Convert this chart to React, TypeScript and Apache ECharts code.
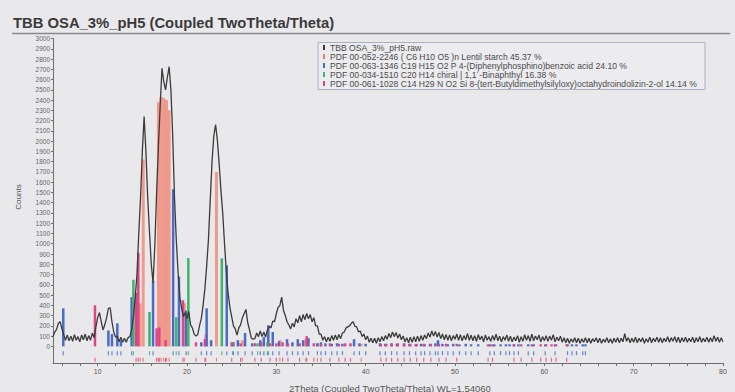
import React, { useEffect, useRef } from "react";
import * as echarts from "echarts";

const titleText = "TBB OSA_3%_pH5 (Coupled TwoTheta/Theta)";
const xAxisTitle = "2Theta (Coupled TwoTheta/Theta) WL=1.54060";
const yAxisTitle = "Counts";

const legendNames = [
  "TBB OSA_3%_pH5.raw",
  "PDF 00-052-2246 ( C6 H10 O5 )n Lentil starch 45.37 %",
  "PDF 00-063-1346 C19 H15 O2 P 4-(Diphenylphosphino)benzoic acid 24.10 %",
  "PDF 00-034-1510 C20 H14 chiral | 1,1´-Binaphthyl 16.38 %",
  "PDF 00-061-1028 C14 H29 N O2 Si 8-(tert-Butyldimethylsilyloxy)octahydroindolizin-2-ol 14.14 %",
];
const legendColors = ["#3b3b3b", "#ee7f6f", "#4a6cc8", "#3db36b", "#dc4583"];

const xTickLabels = [10, 20, 30, 40, 50, 60, 70, 80];
const xMinorTicks = [6, 8, 10, 12, 14, 16, 18, 20, 22, 24, 26, 28, 30, 32, 34, 36, 38, 40, 42, 44, 46, 48, 50, 52, 54, 56, 58, 60, 62, 64, 66, 68, 70, 72, 74, 76, 78, 80];
const yTickLabels = [0, 100, 200, 300, 400, 500, 600, 700, 800, 900, 1000, 1100, 1200, 1300, 1400, 1500, 1600, 1700, 1800, 1900, 2000, 2100, 2200, 2300, 2400, 2500, 2600, 2700, 2800, 2900, 3000];

// measured scan: 2Theta from 5 deg in 0.2 deg steps
const scanStart = 5;
const scanStep = 0.2;
const scanCounts = [
  95, 140, 165, 225, 240, 170, 115, 60, 110, 55,
  100, 50, 115, 60, 95, 45, 110, 65, 120, 55,
  105, 60, 130, 85, 190, 280, 330, 240, 160, 210,
  280, 370, 375, 240, 140, 90, 100, 45, 90, 40,
  80, 40, 85, 95, 160, 290, 470, 700, 1100, 1450,
  1900, 2240, 1900, 1450, 1120, 800, 620, 980, 1500, 1950,
  2350, 2710, 2580, 2500, 2620, 2725, 2500, 2050, 1450, 1040,
  720, 480, 370, 290, 330, 270, 340, 210, 180, 120,
  100, 115, 200, 270, 400, 560, 780, 1040, 1420, 1800,
  2050, 2160, 2010, 1780, 1520, 1300, 1000, 730, 520, 380,
  290, 200, 170, 110, 180, 210, 280, 320, 360, 230,
  160, 80, 70, 75, 130, 95, 150, 95, 140, 90,
  160, 195, 180, 245, 240, 320, 380, 400, 480, 350,
  300, 240, 210, 170, 225, 190, 270, 230, 300, 240,
  310, 260, 320, 270, 310, 240, 280, 200, 200, 120,
  120, 60, 95, 45, 90, 50, 105, 60, 110, 65,
  115, 75, 130, 140, 180, 190, 200, 225, 240, 195,
  190, 140, 150, 95, 120, 65, 100, 40, 80, 35,
  80, 30, 85, 45, 95, 55, 105, 70, 125, 85,
  140, 95, 135, 80, 120, 65, 100, 45, 85, 35,
  90, 40, 95, 45, 100, 50, 105, 60, 110, 75,
  130, 90, 150, 100, 145, 90, 135, 75, 120, 65,
  115, 60, 110, 55, 105, 70, 120, 60, 115, 55,
  105, 65, 125, 60, 110, 55, 105, 50, 115, 65,
  100, 45, 110, 60, 95, 50, 105, 60, 120, 55,
  100, 45, 95, 60, 110, 50, 100, 45, 90, 55,
  105, 40, 95, 50, 115, 60, 105, 50, 120, 55,
  100, 65, 110, 45, 95, 55, 105, 50, 100, 60,
  115, 45, 90, 55, 100, 40, 85, 35, 80, 30,
  75, 40, 85, 35, 80, 30, 75, 40, 85, 35,
  80, 30, 75, 45, 85, 35, 80, 30, 70, 40,
  85, 35, 75, 30, 80, 40, 85, 35, 80, 45,
  125, 50, 85, 35, 80, 40, 90, 35, 80, 45,
  85, 30, 75, 40, 90, 35, 80, 45, 90, 40,
  85, 35, 80, 45, 95, 40, 85, 50, 95, 40,
  90, 35, 85, 45, 90, 40, 80, 45, 90, 35,
  85, 45, 95, 40, 80, 45, 90, 40, 85, 45,
  105, 50, 90, 40, 85, 45,
];

// reference patterns: [2Theta, counts]
const starchSticks = [
  [14.75, 420], [15.1, 1820], [16.8, 2380], [17.1, 2430], [17.4, 2420], [17.7, 2400], [18.0, 2300],
  [19.7, 420], [22.1, 120], [23.3, 1700], [26.2, 60], [30.4, 60], [33.3, 70], [34.6, 30], [39.5, 25],
];
const benzoicSticks = [
  [6.15, 370], [11.2, 155], [11.6, 120], [12.2, 225], [12.6, 60], [13.8, 480], [16.2, 640], [18.45, 1530],
  [19.1, 680], [19.9, 350], [21.6, 40], [22.2, 370], [22.7, 60], [24.45, 790], [25.2, 40], [25.7, 60],
  [26.5, 130], [27.3, 30], [28.2, 60], [28.6, 90], [29.1, 205], [29.6, 140], [30.3, 50], [31.2, 70],
  [31.8, 40], [32.4, 70], [33.0, 60], [33.6, 80], [34.6, 30], [35.0, 40], [35.5, 30], [36.2, 25],
  [36.8, 30], [37.4, 25], [38.7, 70], [39.3, 30], [40.0, 25], [41.6, 30], [42.2, 25], [42.9, 30],
  [43.5, 25], [44.3, 30], [44.9, 25], [45.6, 20], [46.2, 25], [46.6, 20], [47.2, 25], [47.8, 30],
  [48.1, 60], [48.6, 25], [49.2, 20], [49.8, 25], [50.5, 20], [51.2, 25], [51.8, 20], [52.6, 20],
  [53.9, 20], [54.4, 20], [55.1, 20], [55.7, 20], [56.1, 20], [56.6, 20], [57.1, 20], [58.2, 20],
  [58.8, 20], [60.1, 20], [61.2, 20], [62.6, 20], [63.1, 20], [63.6, 20], [64.3, 20], [64.6, 20],
];
const binaphthylSticks = [
  [14.0, 650], [15.8, 335], [18.8, 285], [20.15, 860], [23.9, 858], [25.1, 40], [27.9, 30], [29.0, 40],
];
const indolizinSticks = [
  [9.7, 400], [14.3, 520], [14.55, 910], [16.6, 175], [16.9, 185], [17.6, 60], [19.55, 450], [21.0, 40],
  [22.0, 70], [25.0, 40], [26.0, 30], [27.6, 30], [28.3, 40], [29.3, 30], [30.0, 30], [30.7, 40],
  [31.3, 30], [32.6, 30], [33.4, 100], [34.2, 30], [35.0, 25], [36.0, 30], [37.0, 25], [37.7, 30],
  [38.3, 30], [41.7, 25], [42.3, 25], [42.9, 25], [43.6, 30], [44.3, 25], [45.0, 25], [45.7, 25],
  [46.5, 25], [47.3, 25], [48.2, 25], [49.0, 25], [50.2, 25], [53.7, 20], [54.2, 20], [56.6, 20],
  [57.4, 20], [58.6, 20], [59.6, 20], [60.2, 20], [60.8, 20], [61.3, 20], [62.5, 20],
];

const upperMarkerRow = -66;
const lowerMarkerRow = -131;

const FONT = "'Liberation Sans', Arial, sans-serif";

function stickSeries(data: number[][], color: string, width: number, opacity: number) {
  return {
    type: "custom",
    data,
    encode: { x: 0, y: 1 },
    clip: true,
    z: 2,
    renderItem: (params: any, api: any) => {
      const base = api.coord([api.value(0), 0]);
      const top = api.coord([api.value(0), api.value(1)]);
      return {
        type: "rect",
        shape: { x: base[0] - width / 2, y: top[1], width, height: base[1] - top[1] },
        style: { fill: color, opacity },
      };
    },
  };
}

function markerSeries(data: number[][], row: number, color: string) {
  return {
    type: "scatter",
    data: data.map((d) => [d[0], row]),
    symbol: "rect",
    symbolSize: [1.2, 4],
    itemStyle: { color },
    silent: true,
    z: 2,
  };
}

export default function App() {
  const ref = useRef<HTMLDivElement>(null);
  useEffect(() => {
    if (!ref.current) return;
    const chart = echarts.init(ref.current, undefined, { renderer: "svg" });
    const scan = scanCounts.map((v, i) => [Math.round((scanStart + i * scanStep) * 100) / 100, v]);

    const legendGraphics: any[] = [
      {
        type: "rect",
        shape: { x: 318, y: 42.5, width: 387, height: 47 },
        style: { fill: "rgba(255,255,255,0.15)", stroke: "#a7b1c4", lineWidth: 1 },
      },
    ];
    legendNames.forEach((name, i) => {
      const cy = 47.5 + i * 9;
      legendGraphics.push({
        type: "rect",
        shape: { x: 323, y: cy - 2.5, width: 2, height: 5 },
        style: { fill: legendColors[i] },
      });
      legendGraphics.push({
        type: "text",
        style: {
          text: name,
          x: 330,
          y: cy,
          font: `8.6px ${FONT}`,
          fill: "#4a4a4a",
          textVerticalAlign: "middle",
        },
      });
    });

    chart.setOption({
      animation: false,
      backgroundColor: "#e9e9ec",
      grid: { left: 53, right: 12, top: 38.5, bottom: 29, containLabel: false },
      xAxis: {
        type: "value",
        min: 5,
        max: 80,
        axisLine: { show: true, onZero: false, lineStyle: { color: "#6e6e6e", width: 1 } },
        axisTick: { show: true, customValues: xMinorTicks, length: 3, lineStyle: { color: "#6e6e6e" } },
        axisLabel: { customValues: xTickLabels, fontSize: 7, color: "#555", fontFamily: FONT, margin: 5 },
        splitLine: { show: false },
      },
      yAxis: {
        type: "value",
        min: -162,
        max: 3000,
        axisLine: { show: true, lineStyle: { color: "#6e6e6e", width: 1 } },
        axisTick: { show: true, customValues: yTickLabels, length: 2, lineStyle: { color: "#6e6e6e" } },
        axisLabel: {
          customValues: yTickLabels,
          formatter: (v: number) => String(v),
          fontSize: 6.5,
          color: "#666",
          fontFamily: FONT,
          margin: 3,
          hideOverlap: false,
        },
        splitLine: { show: false },
      },
      series: [
        stickSeries(starchSticks, "#f08c7c", 3, 0.85),
        stickSeries(benzoicSticks, "#4a6cc8", 2.5, 1),
        stickSeries(binaphthylSticks, "#3db36b", 2.5, 1),
        stickSeries(indolizinSticks, "#dc4583", 2.5, 1),
        markerSeries(benzoicSticks, upperMarkerRow, "#4a6cc8"),
        markerSeries(binaphthylSticks, upperMarkerRow, "#3db36b"),
        markerSeries(starchSticks, lowerMarkerRow, "#e8705f"),
        markerSeries(indolizinSticks, lowerMarkerRow, "#dc4583"),
        {
          type: "line",
          data: scan,
          showSymbol: false,
          symbol: "none",
          lineStyle: { color: "#3b3b3b", width: 1.3 },
          z: 3,
        },
      ],
      graphic: [
        {
          type: "text",
          style: {
            text: titleText,
            x: 13,
            y: 23,
            font: `bold 14.8px ${FONT}`,
            fill: "#3a3a3a",
            textVerticalAlign: "middle",
          },
        },
        {
          type: "line",
          shape: { x1: 12, y1: 33.5, x2: 730, y2: 33.5 },
          style: { stroke: "#8a8a8a", lineWidth: 1.5 },
        },
        {
          type: "text",
          rotation: Math.PI / 2,
          x: 18,
          y: 197,
          style: {
            text: yAxisTitle,
            x: 0,
            y: 0,
            font: `8px ${FONT}`,
            fill: "#555",
            textAlign: "center",
            textVerticalAlign: "middle",
          },
        },
        {
          type: "text",
          style: {
            text: xAxisTitle,
            x: 390,
            y: 388,
            font: `9.5px ${FONT}`,
            fill: "#555",
            textAlign: "center",
            textVerticalAlign: "middle",
          },
        },
        ...legendGraphics,
      ],
    });
    return () => chart.dispose();
  }, []);
  return (
    <div
      ref={ref}
      style={{ position: "fixed", left: 0, top: 0, width: 735, height: 392 }}
    />
  );
}
